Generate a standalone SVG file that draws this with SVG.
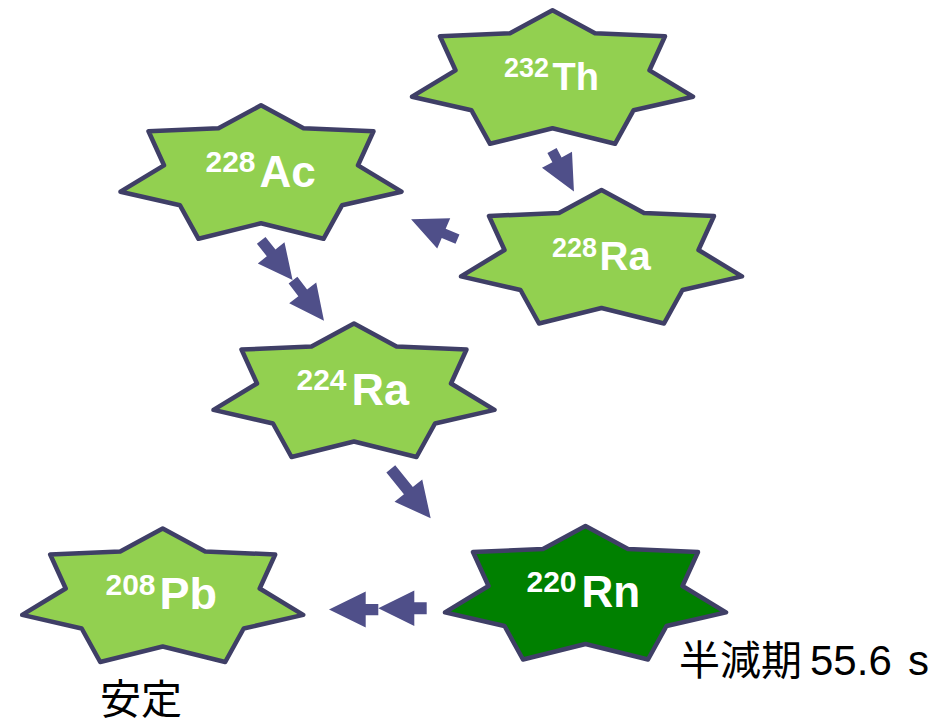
<svg xmlns="http://www.w3.org/2000/svg" width="947" height="719" viewBox="0 0 947 719">
<style>
.star{stroke:#3f3f66;stroke-width:4.5;stroke-linejoin:round}
.lg{fill:#92d050}
.dg{fill:#008000}
.lbl{font-family:"Liberation Sans",Arial,sans-serif;font-weight:bold;fill:#ffffff}
.arr{fill:#4f4f89}
.note{font-family:"Liberation Sans","Noto Sans CJK JP",sans-serif;font-size:41px;fill:#000000}
</style>
<defs>
<path id="star" d="M0,2 L42.5,25 L112.5,28 L97,62 L140.5,88.4 L81,102 L62.5,135.5 L0,120 L-62.5,135.5 L-81,102 L-140.5,88.4 L-97,62 L-112.5,28 L-42.5,25 Z"/>
</defs>
<g id="connectors">
<polygon class="arr" transform="translate(552,150.5) rotate(61.9)" points="0,-5.2 10.6,-5.2 10.6,-17 46.6,0 10.6,17 10.6,5.2 0,5.2"/>
<polygon class="arr" transform="translate(457.5,239.2) rotate(203.2)" points="0,-5 15,-5 15,-16.5 50.5,0 15,16.5 15,5 0,5"/>
<polygon class="arr" transform="translate(261.2,240.3) rotate(51.6)" points="0,-5.5 16,-5.5 16,-17 50.5,0 16,17 16,5.5 0,5.5"/>
<polygon class="arr" transform="translate(293,280.2) rotate(52.6)" points="0,-5.5 16,-5.5 16,-17 51,0 16,17 16,5.5 0,5.5"/>
<polygon class="arr" transform="translate(390.8,468.8) rotate(51.1)" points="0,-5.7 28,-5.7 28,-17.8 63.5,0 28,17.8 28,5.7 0,5.7"/>
<polygon class="arr" transform="translate(426.7,608.3) rotate(180)" points="0,-6 12.4,-6 12.4,-17.8 48.4,0 12.4,17.8 12.4,6 0,6"/>
<polygon class="arr" transform="translate(378.3,609.6) rotate(180)" points="0,-5.6 12.6,-5.6 12.6,-18 49.3,0 12.6,18 12.6,5.6 0,5.6"/>
</g>
<g id="th232">
<use href="#star" class="star lg" x="552.5" y="8.3"/>
<text class="lbl"><tspan x="504" y="76.7" font-size="27">232</tspan><tspan x="552.5" y="90" font-size="38">Th</tspan></text>
</g>
<g id="ac228">
<use href="#star" class="star lg" x="261" y="103.3"/>
<text class="lbl"><tspan x="205.5" y="171.7" font-size="30">228</tspan><tspan x="259.5" y="186.7" font-size="44">Ac</tspan></text>
</g>
<g id="ra228">
<use href="#star" class="star lg" x="601.5" y="188"/>
<text class="lbl"><tspan x="552" y="256.7" font-size="27">228</tspan><tspan x="599.5" y="270" font-size="40">Ra</tspan></text>
</g>
<g id="ra224">
<use href="#star" class="star lg" x="354" y="321.5"/>
<text class="lbl"><tspan x="296.5" y="390" font-size="30">224</tspan><tspan x="351.5" y="405" font-size="45">Ra</tspan></text>
</g>
<g id="pb208">
<use href="#star" class="star lg" x="162.7" y="526.5"/>
<text class="lbl"><tspan x="105.5" y="595" font-size="30">208</tspan><tspan x="159.5" y="609.3" font-size="45">Pb</tspan></text>
<text class="note" x="100" y="714">安定</text>
</g>
<g id="rn220">
<use href="#star" class="star dg" x="585.5" y="524"/>
<text class="lbl"><tspan x="526.5" y="591.7" font-size="30">220</tspan><tspan x="581.5" y="607.3" font-size="44">Rn</tspan></text>
<text class="note" y="675"><tspan x="679">半減期</tspan><tspan x="810" font-size="42">55.6</tspan><tspan x="908" font-size="42">s</tspan></text>
</g>
</svg>
